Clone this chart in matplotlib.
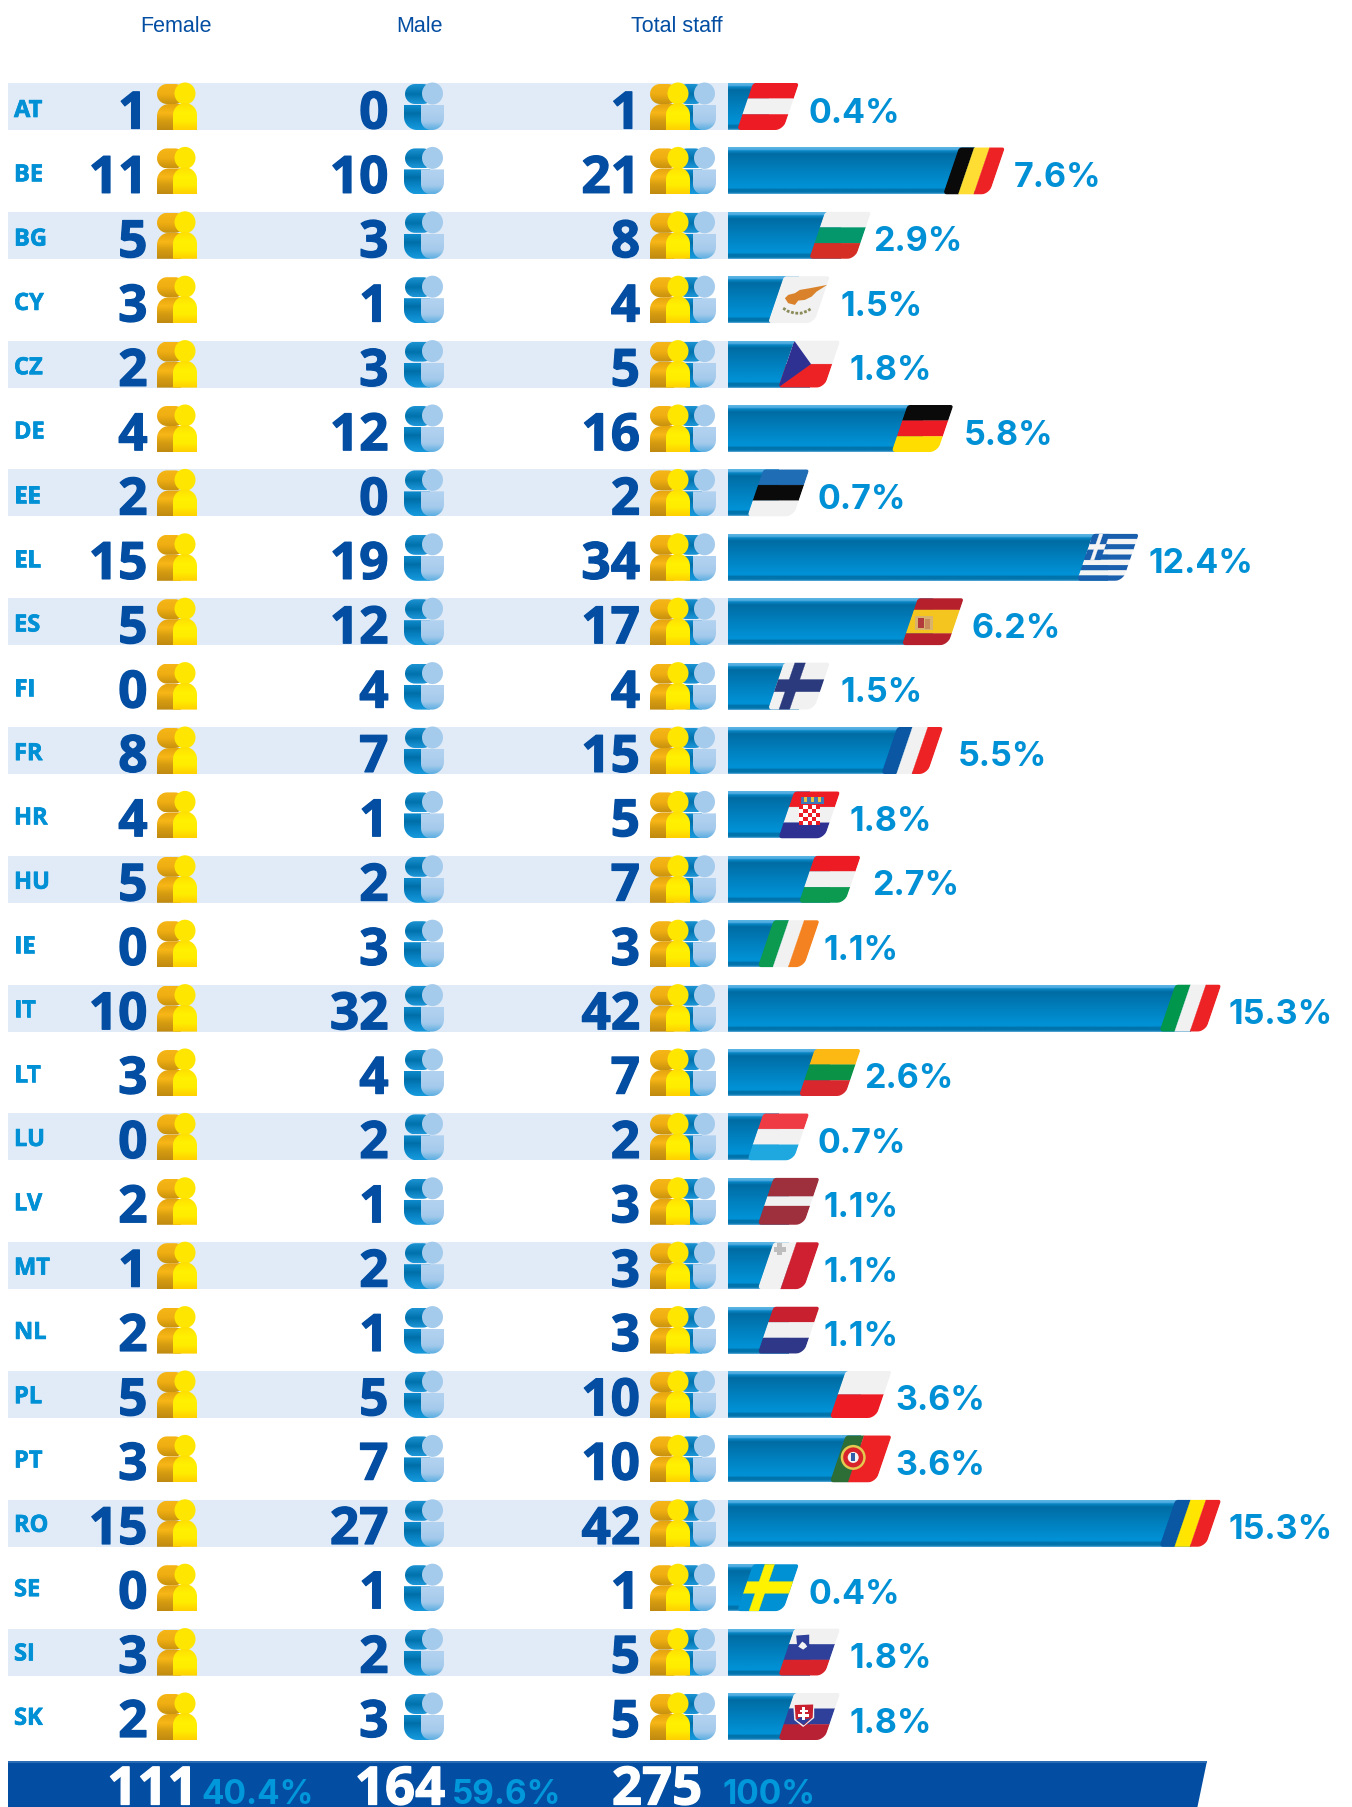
import numpy as np
import matplotlib
matplotlib.use('Agg')
import matplotlib.pyplot as plt
import matplotlib.patheffects as pe
from matplotlib.colors import LinearSegmentedColormap
from matplotlib.patches import Polygon, Ellipse, Rectangle

# data
codes = ['AT', 'BE', 'BG', 'CY', 'CZ', 'DE', 'EE', 'EL', 'ES', 'FI', 'FR', 'HR', 'HU',
         'IE', 'IT', 'LT', 'LU', 'LV', 'MT', 'NL', 'PL', 'PT', 'RO', 'SE', 'SI', 'SK']
female = [1, 11, 5, 3, 2, 4, 2, 15, 5, 0, 8, 4, 5, 0, 10, 3, 0, 2, 1, 2, 5, 3, 15, 0, 3, 2]
male = [0, 10, 3, 1, 3, 12, 0, 19, 12, 4, 7, 1, 2, 3, 32, 4, 2, 1, 2, 1, 5, 7, 27, 1, 2, 3]
total = [1, 21, 8, 4, 5, 16, 2, 34, 17, 4, 15, 5, 7, 3, 42, 7, 2, 3, 3, 3, 10, 10, 42, 1, 5, 5]
share = ['0.4%', '7.6%', '2.9%', '1.5%', '1.8%', '5.8%', '0.7%', '12.4%', '6.2%', '1.5%',
         '5.5%', '1.8%', '2.7%', '1.1%', '15.3%', '2.6%', '0.7%', '1.1%', '1.1%', '1.1%',
         '3.6%', '3.6%', '15.3%', '0.4%', '1.8%', '1.8%']
headers = ['Female', 'Male', 'Total staff']
sum_counts = ['111', '164', '275']
sum_shares = ['40.4%', '59.6%', '100%']

# gap between flag and percentage, it changes from row to row in the original
label_gap = [10, 9, 2, 11, 9, 10, 8, 10, 8, 11, 15, 9, 11, 4, 7, 3, 8, 4, 4, 4, 4, 4, 7, 10, 9, 9]

# flag colours
h_flags = {
    'AT': ['#ED1C24', '#F1F1F1', '#ED1C24'], 'BG': ['#F1F1F1', '#05976C', '#D42E25'],
    'DE': ['#0A0A0A', '#ED1C24', '#FFDD00'], 'EE': ['#1F6DB5', '#0A0A0A', '#F1F1F1'],
    'HR': ['#ED1C24', '#F1F1F1', '#2E3192'], 'HU': ['#ED1C24', '#F1F1F1', '#0B9A4F'],
    'LT': ['#FDB913', '#0A9346', '#D9272E'], 'LU': ['#EE3B44', '#F1F1F1', '#1FA8E0'],
    'NL': ['#C9202F', '#F1F1F1', '#2E3788'], 'SI': ['#F1F1F1', '#2E409A', '#D8232A'],
    'SK': ['#F1F1F1', '#2E409A', '#B82033'],
}
v_flags = {
    'BE': ['#0A0A0A', '#FFDD33', '#ED2224'], 'FR': ['#0B57A4', '#F1F1F1', '#ED2224'],
    'IE': ['#0B9A4F', '#F1F1F1', '#F58220'], 'IT': ['#00964B', '#F1F1F1', '#ED2224'],
    'RO': ['#0A57A4', '#FFE500', '#ED2224'],
}

W, H = 1352, 1807
ROW_TOP, ROW_STEP, ROW_H = 83.0, 64.4, 47.0
FLAG_W, FLAG_SKEW = 46.0, 16.0
BAR_LEFT, STAFF_ZERO, STAFF_PX = 728.0, 788.7, 10.3

NAVY = '#034EA2'
CYAN = '#0090D5'

fig = plt.figure(figsize=(W / 100, H / 100), dpi=100, facecolor='white')

# bar axes: x is number of staff, y is pixels
bar_ax = fig.add_axes([BAR_LEFT / W, 0, 1 - BAR_LEFT / W, 1], zorder=1)
bar_ax.set_xlim((BAR_LEFT - STAFF_ZERO) / STAFF_PX, (W - STAFF_ZERO) / STAFF_PX)
bar_ax.set_ylim(H, 0)
bar_ax.axis('off')

# everything else is laid out in pixels
ax = fig.add_axes([0, 0, 1, 1], zorder=2)
ax.set_xlim(0, W)
ax.set_ylim(H, 0)
ax.axis('off')


def grad(axis, box, stops, clip=None, vertical=True, z=2):
    x0, x1, y0, y1 = box
    cmap = LinearSegmentedColormap.from_list('g', stops)
    img = cmap(np.linspace(0, 1, 64))
    img = img[:, None, :] if vertical else img[None, :, :]
    im = axis.imshow(img, extent=(x0, x1, y1, y0), origin='upper', aspect='auto',
                     interpolation='bilinear', zorder=z)
    if clip is not None:
        im.set_clip_path(clip)
    return im


def round_box(x0, x1, y0, y1, tl=0, tr=0, br=0, bl=0):
    pts = []
    for cx, cy, r, a in [(x0 + tl, y0 + tl, tl, 180), (x1 - tr, y0 + tr, tr, 270),
                         (x1 - br, y1 - br, br, 0), (x0 + bl, y1 - bl, bl, 90)]:
        t = np.radians(np.linspace(a, a + 90, 10))
        pts.append(np.c_[cx + r * np.cos(t), cy + r * np.sin(t)])
    return np.vstack(pts)


def clip_shape(pts):
    p = Polygon(pts, closed=True, fc='none', ec='none', transform=ax.transData)
    ax.add_patch(p)
    return p


def heavy(width, color):
    return [pe.withStroke(linewidth=width, foreground=color)]


def woman(x, top, z=3):
    head = clip_shape(round_box(x, x + 28, top + 1, top + 21, 10, 10, 10, 10))
    grad(ax, (x, x + 28, top + 1, top + 21), ['#F6B616', '#EFAE12', '#C9920F'], head, z=z)
    body = clip_shape(round_box(x, x + 24, top + 21, top + 47, 12, 0, 0, 0))
    grad(ax, (x, x + 24, top + 21, top + 47),
         ['#E5A50F', '#F8B716', '#D49B10', '#C08A10'], body, z=z)
    ax.add_patch(Ellipse((x + 28, top + 10.5), 21, 22, fc='#FFE600', ec='none', zorder=z + 0.1))
    front = clip_shape(round_box(x + 16, x + 40, top + 20, top + 47, 12, 12, 0, 0))
    grad(ax, (x + 16, x + 40, top + 20, top + 47),
         ['#FFDF00', '#FFF000', '#FFED00', '#FFD000'], front, z=z + 0.1)


def man(x, top, z=3):
    head = clip_shape(round_box(x + 1, x + 29, top + 1, top + 21, 10, 10, 10, 10))
    grad(ax, (x + 1, x + 29, top + 1, top + 21), ['#1C93D3', '#0072AC', '#1E97D8'], head, z=z)
    body = clip_shape(round_box(x, x + 26, top + 22, top + 47, 0, 0, 0, 13))
    grad(ax, (x, x + 26, top + 22, top + 47),
         ['#0E8BCD', '#006FA8', '#0A86C8', '#169ADC'], body, z=z)
    ax.add_patch(Ellipse((x + 28.5, top + 10.5), 21, 22, fc='#A5CBEC', ec='none', zorder=z + 0.1))
    front = clip_shape(round_box(x + 17, x + 40, top + 22, top + 47, 0, 0, 12, 10))
    grad(ax, (x + 17, x + 40, top + 22, top + 47),
         ['#B2D2F0', '#AECFEE', '#A2C9EB', '#5BAEE2'], front, z=z + 0.1)


def draw_flag(code, left, top):
    # left is the bottom left corner of the slanted flag
    z = 5

    def fp(u, v):
        return (left + u * FLAG_W + FLAG_SKEW * (1 - v), top + v * ROW_H)

    shape = round_box(0, FLAG_W, 0, ROW_H, 3, 3, 8, 4)
    shape[:, 0] += FLAG_SKEW * (1 - shape[:, 1] / ROW_H) + left
    shape[:, 1] += top
    outline = clip_shape(shape)

    def quad(u0, u1, v0, v1, color, zz=z):
        p = Polygon([fp(u0, v0), fp(u1, v0), fp(u1, v1), fp(u0, v1)], closed=True,
                    fc=color, ec=color, lw=0.2, zorder=zz)
        ax.add_patch(p)
        p.set_clip_path(outline)

    def free(pts, color, zz=z + 1):
        # points are pixel offsets from the flag corner
        p = Polygon([(left + a, top + b) for a, b in pts], closed=True, fc=color, ec='none', zorder=zz)
        ax.add_patch(p)
        p.set_clip_path(outline)

    def block(x0, x1, y0, y1, color, zz=z + 1):
        ax.add_patch(Rectangle((left + x0, top + y0), x1 - x0, y1 - y0, fc=color, ec='none', zorder=zz))

    if code in h_flags:
        for i, c in enumerate(h_flags[code]):
            quad(0, 1, i / 3, (i + 1) / 3, c)
    if code in v_flags:
        for i, c in enumerate(v_flags[code]):
            quad(i / 3, (i + 1) / 3, 0, 1, c)

    if code == 'CY':
        quad(0, 1, 0, 1, '#F1F1F1')
        free([(17, 22), (20.3, 18.7), (27, 17), (32, 13.7), (42, 12), (59.3, 8.7), (48.7, 15.4),
              (43.7, 20.4), (37, 23.7), (30.3, 24.4), (27, 28.7), (20.3, 27)], '#D9822B')
        ax.plot([left + a for a in (15.3, 20, 27, 33, 39, 44)],
                [top + b for b in (32, 35, 37, 37, 35, 32)],
                color='#8A8A5A', lw=2, ls=(0, (1, 0.6)), zorder=z + 1)
    elif code == 'CZ':
        quad(0, 1, 0, 0.5, '#F1F1F1')
        quad(0, 1, 0.5, 1, '#ED2224')
        p = Polygon([fp(0, 0), fp(0.54, 0.5), fp(0, 1)], closed=True, fc='#2E3192', ec='none', zorder=z + 1)
        ax.add_patch(p)
        p.set_clip_path(outline)
    elif code == 'EL':
        for i in range(9):
            quad(0, 1, i / 9, (i + 1) / 9, '#1A5FAD' if i % 2 == 0 else '#F4F4F4')
        quad(0, 0.36, 0, 5 / 9, '#1A5FAD', z + 1)
        quad(0.14, 0.22, 0, 5 / 9, '#F4F4F4', z + 2)
        quad(0, 0.36, 2 / 9, 3 / 9, '#F4F4F4', z + 2)
    elif code == 'ES':
        quad(0, 1, 0, 0.25, '#B5202C')
        quad(0, 1, 0.25, 0.75, '#F5C51F')
        quad(0, 1, 0.75, 1, '#B5202C')
        block(13, 31, 18, 32, '#D9B36B')
        block(16, 22, 20, 30, '#B33A3A')
        block(23, 28, 21, 31, '#C98B5A')
    elif code == 'FI':
        quad(0, 1, 0, 1, '#F1F1F1')
        quad(0.24, 0.47, 0, 1, '#2B3A7C', z + 1)
        quad(0, 1, 0.36, 0.62, '#2B3A7C', z + 1)
    elif code == 'HR':
        block(23, 46, 6, 13, '#3C78B8')
        for a in (26, 33, 40):
            block(a, a + 3, 6, 11, '#E8C23A', z + 2)
        for i in range(5):
            for j in range(5):
                block(21 + 4.2 * i, 25.2 + 4.2 * i, 14 + 4 * j, 18 + 4 * j,
                      '#ED1C24' if (i + j) % 2 == 0 else '#FFFFFF')
    elif code == 'LV':
        quad(0, 1, 0, 0.4, '#9E2F3C')
        quad(0, 1, 0.4, 0.6, '#F1F1F1')
        quad(0, 1, 0.6, 1, '#9E2F3C')
    elif code == 'MT':
        quad(0, 0.5, 0, 1, '#F1F1F1')
        quad(0.5, 1, 0, 1, '#CE2030')
        block(19.5, 24.5, 1, 13, '#BDBDBD')
        block(16, 28, 4.5, 9.5, '#BDBDBD')
    elif code == 'PL':
        quad(0, 1, 0, 0.5, '#F1F1F1')
        quad(0, 1, 0.5, 1, '#ED1C24')
    elif code == 'PT':
        quad(0, 0.4, 0, 1, '#2D6E36')
        quad(0.4, 1, 0, 1, '#ED2224')
        for d, c in [(25, '#E4C84F'), (20, '#D8232A'), (11, '#F4F4F4')]:
            ax.add_patch(Ellipse((left + 23.5, top + 22), d, d, fc=c, ec='none', zorder=z + 1))
        block(21.5, 25.5, 18, 26, '#2E5FA8', z + 2)
    elif code == 'SE':
        quad(0, 1, 0, 1, '#0090D4')
        quad(0.26, 0.47, 0, 1, '#FFF200', z + 1)
        quad(0, 1, 0.37, 0.62, '#FFF200', z + 1)
    elif code == 'SI':
        free([(18, 7), (31, 6), (31, 17), (25, 23), (19, 18)], '#2E409A')
        free([(20, 18), (24, 13), (27, 15), (29, 18), (25, 21)], '#F4F4F4', z + 2)
    elif code == 'SK':
        free([(15, 11), (36, 10), (36, 25), (25, 34), (16, 27)], '#F1F1F1')
        free([(16.5, 12), (35, 11.5), (34.5, 24.5), (25.5, 32.5), (17.5, 26)], '#C9202F', z + 2)
        free([(18, 27), (23, 24), (28, 26), (33, 25), (25.5, 32)], '#2E409A', z + 3)
        block(24, 27, 14, 27, '#FFFFFF', z + 4)
        block(20, 31, 21, 23.5, '#FFFFFF', z + 4)
        block(21.5, 29.5, 16.5, 18.5, '#FFFFFF', z + 4)


bar_stops = [(0, '#5AB4E4'), (0.05, '#4CA9DE'), (0.07, '#0A88C8'), (0.14, '#006CA3'),
             (0.5, '#0080BF'), (0.85, '#0092D6'), (0.885, '#0090D2'), (0.9, '#0074AE'),
             (0.97, '#0074AC'), (1, '#55A6D6')]

for i, code in enumerate(codes):
    top = ROW_TOP + i * ROW_STEP
    bottom = top + ROW_H
    if i % 2 == 0:
        ax.add_patch(Rectangle((8, top), BAR_LEFT - 8, ROW_H, fc='#E0EBF7', ec='none', zorder=1))

    ax.text(14, top + 34 - 0.09 * i, code, color=CYAN, fontsize=17, fontweight='bold',
            family='Open Sans', ha='left', va='baseline', path_effects=heavy(0.5, CYAN))
    for x, value in zip((147.5, 388.5, 640), (female[i], male[i], total[i])):
        ax.text(x, top + 45.5 - 0.06 * i, str(value), color=NAVY, fontsize=37, fontweight='bold',
                family='Open Sans', ha='right', va='baseline', zorder=4, path_effects=heavy(0.9, NAVY))

    woman(157, top)
    man(404, top)
    man(676, top, z=3)
    woman(650, top, z=3.5)

    # bar runs under the flag, tip taken from the staff scale
    tip = bar_ax.transData.transform((total[i], 0))[0]
    flag_left = tip - FLAG_W - FLAG_SKEW
    grad(bar_ax, (bar_ax.get_xlim()[0], total[i] - 3.0, top, bottom), bar_stops, z=2)
    draw_flag(code, flag_left, top)
    ax.text(tip + label_gap[i], top + 39.5, share[i], color=CYAN, fontsize=24.5, fontweight='bold',
            family='Inter', ha='left', va='baseline')

for x, label in zip((176, 419.5, 677), headers):
    ax.text(x, 32, label, color=NAVY, fontsize=15.5, ha='center', va='baseline',
            family='Liberation Sans')

# total strip at the bottom
ax.add_patch(Polygon([(8, 1761), (1207, 1761), (1197, H + 2), (8, H + 2)], closed=True,
                     fc=NAVY, ec='none', zorder=2))
ax.add_patch(Rectangle((8, 1761), 1199, 1.5, fc='#2A6DB5', ec='none', zorder=2.1))
for x, label in zip((152.5, 400, 657), sum_counts):
    ax.text(x, 1804.5, label, color='white', fontsize=38, fontweight='bold', family='Open Sans',
            ha='center', va='baseline', zorder=3, path_effects=heavy(0.9, 'white'))
for x, label in zip((201, 452, 722), sum_shares):
    ax.text(x, 1804.5, label, color='#0098DA', fontsize=24, fontweight='bold',
            family='Inter', ha='left', va='baseline', zorder=3)

fig.savefig('out.png', dpi=100, facecolor='white')
